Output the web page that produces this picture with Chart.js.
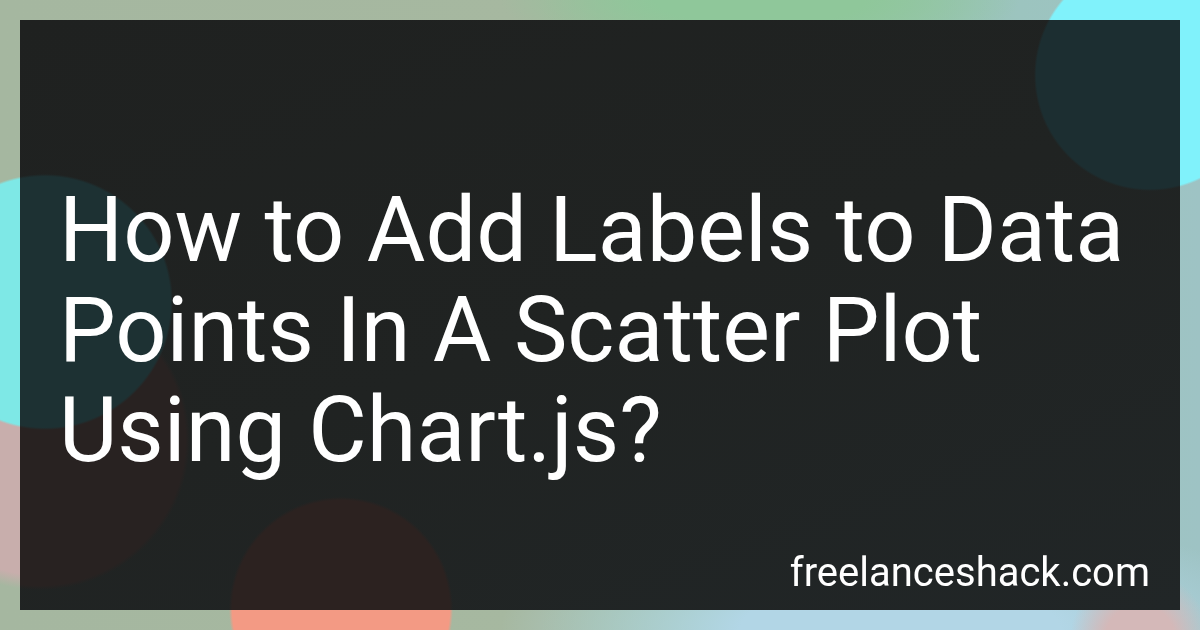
<!DOCTYPE html>
<html>
<head>
<meta charset="utf-8">
<script src="https://cdn.jsdelivr.net/npm/chart.js@4.4.1/dist/chart.umd.min.js"></script>
<style>
    html, body {
        margin: 0;
        padding: 0;
        width: 1200px;
        height: 630px;
        overflow: hidden;
    }
    body {
        position: relative;
        background:
            radial-gradient(circle 116px at 1150px 75px, #80f2fb 98%, rgba(128,242,251,0) 100%),
            radial-gradient(circle 128px at 45px 302px, #7ee8e6 98%, rgba(126,232,230,0) 100%),
            radial-gradient(circle 112px at 341px 609px, #f39a84 97%, rgba(243,154,132,0) 100%),
            radial-gradient(circle 150px at 40px 440px, #c8aeac 90%, rgba(200,174,172,0) 100%),
            radial-gradient(circle 70px at 1140px 640px, #d4b8b8 50%, rgba(212,184,184,0) 100%),
            radial-gradient(ellipse 400px 120px at 900px 630px, #b2d6e6 40%, rgba(178,214,230,0) 100%),
            radial-gradient(ellipse 260px 60px at 760px 0px, #8fc79a 40%, rgba(143,199,154,0) 100%),
            linear-gradient(90deg, #a5b7a0 0%, #a6b8a0 45%, #93c39c 65%, #9cc4bf 85%, #9ec3c4 100%);
    }
    .panel {
        position: absolute;
        left: 20px;
        top: 20px;
        width: 1160px;
        height: 590px;
        background:
            radial-gradient(circle 116px at 1130px 55px, #1c2e31 98%, rgba(28,46,49,0) 100%),
            radial-gradient(circle 128px at 25px 282px, #1d3133 98%, rgba(29,49,51,0) 100%),
            radial-gradient(circle 112px at 321px 589px, #2c2220 97%, rgba(44,34,32,0) 100%),
            radial-gradient(circle 150px at 20px 420px, #282221 97%, rgba(40,34,33,0) 100%),
            linear-gradient(160deg, #1f2120 0%, #202322 50%, #212627 100%);
    }
    #wrap {
        position: absolute;
        left: 0;
        top: 0;
        width: 1200px;
        height: 630px;
    }
</style>
</head>
<body>
<div class="panel"></div>
<div id="wrap"><canvas id="titleChart"></canvas></div>
<script>
// Title card drawn through Chart.js title / subtitle plugins

const titleLines = [
    'How to Add Labels to Data',
    'Points In A Scatter Plot',
    'Using Chart.js?'
];
const siteName = 'freelanceshack.com';

function createTitleCard() {
    const ctx = document.getElementById('titleChart').getContext('2d');

    new Chart(ctx, {
        type: 'scatter',
        data: {
            datasets: []
        },
        options: {
            responsive: true,
            maintainAspectRatio: false,
            animation: false,
            layout: {
                padding: { left: 59, right: 50, top: 0, bottom: 0 }
            },
            plugins: {
                legend: { display: false },
                tooltip: { enabled: false },
                title: {
                    display: true,
                    text: titleLines,
                    align: 'start',
                    color: '#ffffff',
                    font: { family: 'Roboto', size: 90, weight: 'normal', lineHeight: '100px' },
                    padding: { top: 188, bottom: 0 }
                },
                subtitle: {
                    display: true,
                    text: siteName,
                    position: 'bottom',
                    align: 'end',
                    color: '#ffffff',
                    font: { family: 'Roboto', size: 40, weight: 'normal', lineHeight: 1.2 },
                    padding: { top: 0, bottom: 30 }
                }
            },
            scales: {
                x: { display: false },
                y: { display: false }
            }
        }
    });
}

createTitleCard();
</script>
</body>
</html>
